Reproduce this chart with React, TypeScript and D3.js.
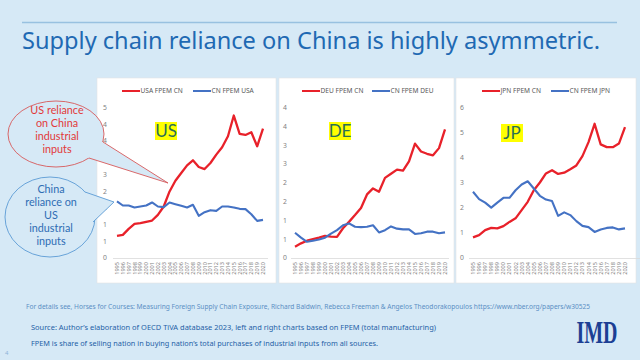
import React from "react";
import * as d3 from "d3";

const years = d3.range(1995, 2021).map(String);

const usaFromCN = [0.66,0.69,0.87,1.02,1.04,1.08,1.12,1.29,1.54,1.99,2.31,2.54,2.77,2.92,2.72,2.66,2.84,3.09,3.31,3.64,4.26,3.71,3.68,3.76,3.34,3.87];
const cnFromUSA = [1.69,1.57,1.57,1.51,1.54,1.57,1.66,1.54,1.52,1.66,1.61,1.56,1.51,1.59,1.26,1.37,1.43,1.41,1.54,1.54,1.51,1.47,1.46,1.31,1.11,1.14];
const deuFromCN = [0.30,0.39,0.46,0.50,0.54,0.59,0.57,0.56,0.79,0.96,1.14,1.33,1.69,1.85,1.76,2.13,2.24,2.35,2.32,2.57,3.04,2.83,2.77,2.73,2.92,3.42];
const cnFromDEU = [0.67,0.54,0.43,0.46,0.49,0.54,0.65,0.74,0.87,0.92,0.83,0.82,0.83,0.87,0.68,0.74,0.84,0.78,0.76,0.76,0.64,0.66,0.70,0.70,0.66,0.68];
const jpnFromCN = [0.82,0.91,1.11,1.20,1.18,1.27,1.44,1.58,1.91,2.24,2.70,3.01,3.37,3.50,3.35,3.40,3.54,3.69,4.06,4.62,5.35,4.53,4.42,4.42,4.56,5.22];
const cnFromJPN = [2.64,2.35,2.21,2.01,2.21,2.40,2.40,2.70,2.93,3.06,2.77,2.48,2.33,2.27,1.68,1.82,1.71,1.47,1.28,1.23,1.04,1.14,1.20,1.22,1.14,1.18];

const panelNames = ["US", "DE", "JP"];
const redLegend = ["USA FPEM CN", "DEU FPEM CN", "JPN FPEM CN"];
const blueLegend = ["CN FPEM USA", "CN FPEM DEU", "CN FPEM JPN"];
const yMax = [4.5, 4, 6];
const yStep = [0.5, 0.5, 1];

const titleText = "Supply chain reliance on China is highly asymmetric.";
const usBubble = ["US reliance", "on China", "industrial", "inputs"];
const cnBubble = ["China", "reliance on", "US", "industrial", "inputs"];
const footDetails = "For details see, Horses for Courses: Measuring Foreign Supply Chain Exposure, Richard Baldwin, Rebecca Freeman & Angelos Theodorakopoulos https://www.nber.org/papers/w30525";
const footSource = "Source: Author\u2019s elaboration of OECD TiVA database 2023, left and right charts based on FPEM  (total manufacturing)";
const footDef = "FPEM is share of selling nation in buying nation\u2019s total purchases of industrial inputs from all sources.";

const BG = "#d6e9f6";
const RED = "#e8212a";
const BLUE = "#4472c4";
const FONT = "'Noto Sans', 'Open Sans', sans-serif";
const BFONT = "Lato, 'Noto Sans', sans-serif";

type PanelCfg = {
  box: [number, number, number, number];
  xr: [number, number];
  axisX: [number, number];
  labelX: number;
  legend: { r0: number; b0: number };
  tag: [number, number];
};

const panels: PanelCfg[] = [
  { box: [97, 78, 179, 205], xr: [117, 263], axisX: [113, 268], labelX: 107, legend: { r0: 122, b0: 193 }, tag: [155, 122] },
  { box: [279, 78, 175, 205], xr: [295, 445], axisX: [291, 449], labelX: 287, legend: { r0: 302, b0: 372 }, tag: [329, 122] },
  { box: [456, 78, 180, 205], xr: [473, 625], axisX: [469, 640], labelX: 464, legend: { r0: 482, b0: 551 }, tag: [501, 124] },
];

const seriesRed = [usaFromCN, deuFromCN, jpnFromCN];
const seriesBlue = [cnFromUSA, cnFromDEU, cnFromJPN];

const Y0 = 258;
const YTOP = 107.5;

function Panel({ i }: { i: number }) {
  const p = panels[i];
  const x = d3.scalePoint<string>().domain(years).range(p.xr);
  const y = d3.scaleLinear().domain([0, yMax[i]]).range([Y0, YTOP]);
  const line = d3
    .line<number>()
    .x((_, k) => x(years[k]) as number)
    .y((d) => y(d));
  const ticks = d3.range(0, yMax[i] + 1e-6, yStep[i]);
  const [bx, by, bw, bh] = p.box;
  return (
    <g>
      <rect x={bx} y={by} width={bw} height={bh} fill="#ffffff" stroke="#e4e4e4" strokeWidth={0.6} />
      <g fontFamily={FONT} fontSize={6.6} fill="#595959">
        <line x1={p.legend.r0} x2={p.legend.r0 + 18} y1={91} y2={91} stroke={RED} strokeWidth={2} />
        <text x={p.legend.r0 + 18.5} y={93.3}>{redLegend[i]}</text>
        <line x1={p.legend.b0} x2={p.legend.b0 + 18} y1={91} y2={91} stroke={BLUE} strokeWidth={2} />
        <text x={p.legend.b0 + 18.5} y={93.3}>{blueLegend[i]}</text>
      </g>
      <g fontFamily={FONT} fontSize={6.8} fill="#7f7f7f" textAnchor="end">
        {ticks.map((t) => (
          <text key={t} x={p.labelX} y={y(t) + 2.4}>
            {Math.round(t)}
          </text>
        ))}
      </g>
      <line x1={p.axisX[0]} x2={p.axisX[1]} y1={Y0 + 0.5} y2={Y0 + 0.5} stroke="#d9d9d9" strokeWidth={0.8} />
      <g fontFamily={FONT} fontSize={5.6} fill="#7f7f7f">
        {years.map((yr) => {
          const xx = (x(yr) as number) + 2;
          return (
            <text key={yr} transform={`translate(${xx},${262}) rotate(-90)`} textAnchor="end">
              {yr}
            </text>
          );
        })}
      </g>
      <rect x={p.tag[0]} y={p.tag[1]} width={22} height={18} fill="#ffff00" />
      <text x={p.tag[0] + 11} y={p.tag[1] + 15} textAnchor="middle" fontFamily={BFONT} fontSize={17} fill="#2b6f55">
        {panelNames[i]}
      </text>
      <path d={line(seriesRed[i]) || ""} fill="none" stroke={RED} strokeWidth={2.3} strokeLinejoin="round" />
      <path d={line(seriesBlue[i]) || ""} fill="none" stroke={BLUE} strokeWidth={2.1} strokeLinejoin="round" />
    </g>
  );
}

function Bubble({
  cx, cy, rx, ry, base1, base2, tip, color, textColor, lines, textY, lineH,
}: {
  cx: number; cy: number; rx: number; ry: number;
  base1: [number, number]; base2: [number, number]; tip: [number, number];
  color: string; textColor: string; lines: string[]; textY: number; lineH: number;
}) {
  return (
    <g>
      <ellipse cx={cx} cy={cy} rx={rx} ry={ry} fill={BG} stroke={color} strokeWidth={0.9} />
      <polygon points={`${base1.join(",")} ${tip.join(",")} ${base2.join(",")} ${cx},${cy}`} fill={BG} />
      <line x1={base1[0]} y1={base1[1]} x2={tip[0]} y2={tip[1]} stroke={color} strokeWidth={0.9} />
      <line x1={base2[0]} y1={base2[1]} x2={tip[0]} y2={tip[1]} stroke={color} strokeWidth={0.9} />
      <g fontFamily={BFONT} fontSize={10.8} fill={textColor} textAnchor="middle">
        {lines.map((l, k) => (
          <text key={k} x={cx + 1} y={textY + k * lineH}>
            {l}
          </text>
        ))}
      </g>
    </g>
  );
}

export default function App() {
  return (
    <svg width={640} height={360} style={{ position: "absolute", left: 0, top: 0, display: "block" }}>
      <rect x={0} y={0} width={640} height={360} fill={BG} />
      <line x1={22} x2={617} y1={22.5} y2={22.5} stroke="#98c1e0" strokeWidth={1.4} />
      <text x={22} y={48.5} fontFamily={FONT} fontSize={23} fill="#1f69b3" textLength={578} lengthAdjust="spacingAndGlyphs">
        {titleText}
      </text>
      {panels.map((_, i) => (
        <Panel key={i} i={i} />
      ))}
      <Bubble
        cx={56} cy={134} rx={48} ry={33}
        base1={[103, 142]} base2={[89, 158]} tip={[168, 183]}
        color="#d7595a" textColor="#e23a3a" lines={usBubble} textY={114} lineH={13}
      />
      <Bubble
        cx={50} cy={217} rx={45} ry={40}
        base1={[85, 192]} base2={[93, 222]} tip={[114, 202]}
        color="#5b9bd5" textColor="#2e6db4" lines={cnBubble} textY={193} lineH={13}
      />
      <g fontFamily={FONT}>
        <text x={26} y={309} fontSize={6.4} fill="#5b8fc4" textLength={564} lengthAdjust="spacingAndGlyphs">
          {footDetails}
        </text>
        <text x={31} y={330} fontSize={7.6} fill="#1f5fa6" textLength={405} lengthAdjust="spacingAndGlyphs">
          {footSource}
        </text>
        <text x={31} y={346} fontSize={7.6} fill="#1f5fa6" textLength={347} lengthAdjust="spacingAndGlyphs">
          {footDef}
        </text>
        <text x={5} y={355} fontSize={6} fill="#8fb4d8">4</text>
      </g>
      <text x={597} y={343} textAnchor="middle" fontFamily="'Liberation Serif', 'DejaVu Serif', serif" fontWeight="bold" fontSize={31} fill="#1c3f94" textLength={41} lengthAdjust="spacingAndGlyphs">
        IMD
      </text>
    </svg>
  );
}
